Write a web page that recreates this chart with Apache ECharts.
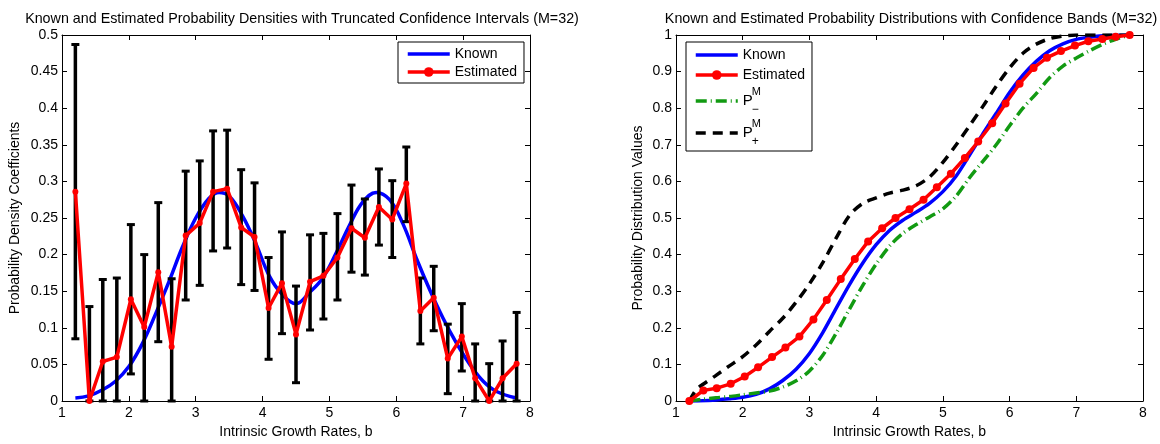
<!DOCTYPE html>
<html>
<head>
<meta charset="utf-8"/>
<title>Known and Estimated Probability Densities / Distributions</title>
<script src="https://cdn.jsdelivr.net/npm/echarts@6/dist/echarts.min.js"></script>
<style>
    html, body { margin: 0; padding: 0; background: #fff; }
    #chart { width: 1160px; height: 444px; }
</style>
</head>
<body>
<div id="chart"></div>
<script type="text/javascript">
// nodes b_k where the estimate is given (M=32)
var nodes = [1.2, 1.41, 1.61, 1.82, 2.03, 2.23, 2.44, 2.64, 2.85, 3.06, 3.26,
             3.47, 3.68, 3.88, 4.09, 4.29, 4.5, 4.71, 4.91, 5.12, 5.33, 5.53,
             5.74, 5.94, 6.15, 6.36, 6.56, 6.77, 6.98, 7.18, 7.39, 7.59, 7.8];

// left plot: densities
var estDensity = [0.286, 0.0, 0.054, 0.060, 0.139, 0.101, 0.176, 0.074, 0.226, 0.243, 0.286,
                  0.290, 0.237, 0.224, 0.127, 0.161, 0.091, 0.163, 0.171, 0.196, 0.236, 0.223,
                  0.265, 0.248, 0.297, 0.123, 0.141, 0.058, 0.088, 0.031, 0.0, 0.031, 0.051];
var ciUpper = [0.487, 0.129, 0.166, 0.168, 0.241, 0.200, 0.271, 0.167, 0.314, 0.328, 0.369,
               0.370, 0.316, 0.298, 0.196, 0.231, 0.157, 0.227, 0.229, 0.256, 0.295, 0.276,
               0.317, 0.301, 0.347, 0.168, 0.184, 0.105, 0.133, 0.078, 0.051, 0.082, 0.121];
var ciLower = [0.085, 0, 0, 0, 0.037, 0, 0.081, 0, 0.138, 0.158, 0.205,
               0.209, 0.159, 0.151, 0.057, 0.092, 0.025, 0.097, 0.112, 0.138, 0.176, 0.172,
               0.213, 0.196, 0.245, 0.078, 0.096, 0.010, 0.041, 0, 0, 0, 0];

var knownB = [1.2, 1.4, 1.6, 1.8, 2.0, 2.2, 2.4, 2.6, 2.8, 3.0, 3.2, 3.35, 3.5, 3.7, 3.9, 4.1, 4.3,
              4.5, 4.7, 4.9, 5.1, 5.3, 5.5, 5.7, 5.9, 6.1, 6.3, 6.5, 6.7, 6.9, 7.1, 7.3, 7.5, 7.8];
var knownDensity = [0.004, 0.007, 0.015, 0.027, 0.047, 0.078, 0.119, 0.163, 0.21, 0.25, 0.277, 0.285,
                    0.28, 0.253, 0.215, 0.171, 0.145, 0.133, 0.148, 0.168, 0.202, 0.24, 0.272, 0.285,
                    0.275, 0.242, 0.195, 0.152, 0.113, 0.079, 0.05, 0.027, 0.013, 0.004];

// right plot: distributions
var estCdf = [0, 0.029, 0.035, 0.047, 0.067, 0.092, 0.120, 0.146, 0.176, 0.223, 0.276,
              0.333, 0.388, 0.436, 0.472, 0.500, 0.524, 0.550, 0.584, 0.621, 0.664, 0.709,
              0.759, 0.813, 0.867, 0.910, 0.938, 0.956, 0.971, 0.983, 0.989, 0.995, 1.0];

var cdfB = [1.2, 1.4, 1.6, 1.8, 2.0, 2.2, 2.4, 2.6, 2.8, 3.0, 3.2, 3.4, 3.6, 3.8, 4.0, 4.2, 4.4,
            4.6, 4.8, 5.0, 5.2, 5.4, 5.6, 5.8, 6.0, 6.2, 6.4, 6.6, 6.8, 7.0, 7.2, 7.4, 7.6, 7.8];
var knownCdf = [0, 0.001, 0.003, 0.006, 0.01, 0.018, 0.033, 0.056, 0.087, 0.13, 0.187, 0.253, 0.318,
                0.377, 0.427, 0.466, 0.494, 0.516, 0.54, 0.572, 0.615, 0.672, 0.73, 0.786, 0.843,
                0.89, 0.928, 0.957, 0.976, 0.988, 0.994, 0.998, 0.999, 1.0];
var pMinus = [0, 0.005, 0.009, 0.012, 0.017, 0.022, 0.027, 0.038, 0.055, 0.082, 0.125, 0.185, 0.251,
              0.316, 0.374, 0.423, 0.458, 0.482, 0.503, 0.525, 0.56, 0.61, 0.655, 0.70, 0.752,
              0.80, 0.84, 0.883, 0.915, 0.937, 0.957, 0.975, 0.989, 1.0];
var pPlusB = [1.2, 1.3, 1.4, 1.6, 1.8, 2.0, 2.2, 2.4, 2.6, 2.8, 3.0, 3.2, 3.4, 3.6, 3.8, 4.0, 4.2,
              4.4, 4.6, 4.8, 5.0, 5.2, 5.4, 5.6, 5.8, 6.0, 6.2, 6.4, 6.6, 6.8, 7.0, 7.4, 7.8];
var pPlus = [0, 0.03, 0.045, 0.07, 0.096, 0.121, 0.153, 0.19, 0.226, 0.27, 0.32, 0.378, 0.445,
             0.507, 0.54, 0.555, 0.568, 0.576, 0.588, 0.612, 0.652, 0.70, 0.752, 0.805, 0.86,
             0.91, 0.95, 0.975, 0.99, 0.997, 1.0, 1.0, 1.0];

var FONT = 'Liberation Sans, Arial, sans-serif';
var FS = 14;

function zip(xs, ys) {
    var out = [];
    for (var i = 0; i < xs.length; i++) out.push([xs[i], ys[i]]);
    return out;
}

var errData = [];
for (var i = 0; i < nodes.length; i++) errData.push([nodes[i], ciLower[i], ciUpper[i]]);

function fmt(v) { return String(+v.toFixed(2)); }

// one x axis (bottom with labels, or top mirror with ticks only)
function xAxisFor(grid, top) {
    return {
        type: 'value', gridIndex: grid, position: top ? 'top' : 'bottom',
        min: 1, max: 8, interval: 1,
        name: top ? '' : 'Intrinsic Growth Rates, b',
        nameLocation: 'middle', nameGap: 24,
        nameTextStyle: { fontFamily: FONT, fontSize: FS, color: '#000' },
        axisLine: { show: true, onZero: false, lineStyle: { color: '#000', width: 1 } },
        axisTick: { show: true, inside: true, length: 5, lineStyle: { color: '#000' } },
        axisLabel: { show: !top, fontFamily: FONT, fontSize: FS, color: '#000', margin: 5 },
        splitLine: { show: false }
    };
}
function yAxisFor(grid, right, max, interval, name, gap) {
    return {
        type: 'value', gridIndex: grid, position: right ? 'right' : 'left',
        min: 0, max: max, interval: interval,
        name: right ? '' : name,
        nameLocation: 'middle', nameGap: gap,
        nameTextStyle: { fontFamily: FONT, fontSize: FS, color: '#000' },
        axisLine: { show: true, onZero: false, lineStyle: { color: '#000', width: 1 } },
        axisTick: { show: true, inside: true, length: 5, lineStyle: { color: '#000' } },
        axisLabel: { show: !right, fontFamily: FONT, fontSize: FS, color: '#000', margin: 4, formatter: fmt },
        splitLine: { show: false }
    };
}

var chart = echarts.init(document.getElementById('chart'));

var legendLabels = { KnownCdf: 'Known', EstCdf: 'Estimated' };
var noMarker = { opacity: 0 };

var option = {
    animation: false,
    backgroundColor: '#fff',
    title: [
        { text: 'Known and Estimated Probability Densities with Truncated Confidence Intervals (M=32)',
          left: 297, top: 7, textAlign: 'center',
          textStyle: { fontFamily: FONT, fontSize: 14.3, fontWeight: 'normal', color: '#000' } },
        { text: 'Known and Estimated Probability Distributions with Confidence Bands (M=32)',
          left: 906, top: 7, textAlign: 'center',
          textStyle: { fontFamily: FONT, fontSize: 14.3, fontWeight: 'normal', color: '#000' } }
    ],
    grid: [
        { left: 62, right: 630, top: 35, bottom: 40 },
        { left: 676, right: 17, top: 35, bottom: 40 }
    ],
    xAxis: [xAxisFor(0, false), xAxisFor(0, true), xAxisFor(1, false), xAxisFor(1, true)],
    yAxis: [
        yAxisFor(0, false, 0.5, 0.05, 'Probability Density Coefficients', 40),
        yAxisFor(0, true, 0.5, 0.05, '', 0),
        yAxisFor(1, false, 1, 0.1, 'Probability Distribution Values', 31),
        yAxisFor(1, true, 1, 0.1, '', 0)
    ],
    legend: [
        {
            data: [{ name: 'Known', itemStyle: noMarker }, 'Estimated'],
            orient: 'vertical', left: 398, top: 42,
            padding: [4, 7, 3, 8], itemGap: 2, itemWidth: 42, itemHeight: 12,
            lineStyle: { width: 3.5 },
            backgroundColor: '#fff', borderColor: '#000', borderWidth: 1, borderRadius: 0,
            textStyle: { fontFamily: FONT, fontSize: FS, color: '#000', lineHeight: 16 }
        },
        {
            data: [{ name: 'KnownCdf', itemStyle: noMarker }, 'EstCdf',
                   { name: 'Pminus', itemStyle: noMarker }, { name: 'Pplus', itemStyle: noMarker }],
            orient: 'vertical', left: 686, top: 42,
            padding: [4, 7, 3, 8], itemGap: 2, itemWidth: 42, itemHeight: 12,
            lineStyle: { width: 3.5 },
            backgroundColor: '#fff', borderColor: '#000', borderWidth: 1, borderRadius: 0,
            formatter: function (n) {
                if (n === 'Pminus') return '{e| }{m|M}\n{p|P}\n{e| }{s|\u2212}';
                if (n === 'Pplus') return '{e| }{m|M}\n{p|P}\n{e| }{s|+}';
                return legendLabels[n];
            },
            textStyle: {
                fontFamily: FONT, fontSize: FS, color: '#000', lineHeight: 18,
                rich: {
                    e: { width: 9, fontSize: 9, lineHeight: 6 },
                    m: { fontFamily: FONT, fontSize: 11, color: '#000', lineHeight: 6 },
                    p: { fontFamily: FONT, fontSize: 15, color: '#000', lineHeight: 12 },
                    s: { fontFamily: FONT, fontSize: 12, color: '#000', lineHeight: 7 }
                }
            }
        }
    ],
    series: [
        {
            name: 'Known', type: 'line', xAxisIndex: 0, yAxisIndex: 0,
            data: zip(knownB, knownDensity), smooth: 0.4, showSymbol: false, symbol: 'none',
            lineStyle: { color: '#0000ff', width: 3.5 }, itemStyle: { color: '#0000ff' }, z: 2
        },
        {
            name: 'CI', type: 'custom', xAxisIndex: 0, yAxisIndex: 0,
            data: errData, encode: { x: 0, y: [1, 2] }, z: 3,
            renderItem: function (params, api) {
                var top = api.coord([api.value(0), api.value(2)]);
                var bot = api.coord([api.value(0), api.value(1)]);
                var st = { stroke: '#000', lineWidth: 3.5 };
                var cap = { stroke: '#000', lineWidth: 3 };
                return {
                    type: 'group',
                    children: [
                        { type: 'line', shape: { x1: top[0], y1: top[1], x2: bot[0], y2: bot[1] }, style: st },
                        { type: 'line', shape: { x1: top[0] - 4, y1: top[1], x2: top[0] + 4, y2: top[1] }, style: cap },
                        { type: 'line', shape: { x1: bot[0] - 4, y1: bot[1], x2: bot[0] + 4, y2: bot[1] }, style: cap }
                    ]
                };
            }
        },
        {
            name: 'Estimated', type: 'line', xAxisIndex: 0, yAxisIndex: 0,
            data: zip(nodes, estDensity), symbol: 'circle', symbolSize: 6,
            lineStyle: { color: '#ff0000', width: 3.5 }, itemStyle: { color: '#ff0000' }, z: 4
        },
        {
            name: 'KnownCdf', type: 'line', xAxisIndex: 2, yAxisIndex: 2,
            data: zip(cdfB, knownCdf), smooth: 0.3, symbol: 'none',
            lineStyle: { color: '#0000ff', width: 3.5 }, itemStyle: { color: '#0000ff' }, z: 2
        },
        {
            name: 'EstCdf', type: 'line', xAxisIndex: 2, yAxisIndex: 2,
            data: zip(nodes, estCdf), symbol: 'circle', symbolSize: 8,
            lineStyle: { color: '#ff0000', width: 3.5 }, itemStyle: { color: '#ff0000' }, z: 4
        },
        {
            name: 'Pminus', type: 'line', xAxisIndex: 2, yAxisIndex: 2,
            data: zip(cdfB, pMinus), smooth: 0.3, symbol: 'none',
            lineStyle: { color: '#129a12', width: 3.5, type: [11, 4, 1, 4] }, itemStyle: { color: '#129a12' }, z: 3
        },
        {
            name: 'Pplus', type: 'line', xAxisIndex: 2, yAxisIndex: 2,
            data: zip(pPlusB, pPlus), smooth: 0.3, symbol: 'none',
            lineStyle: { color: '#000', width: 3.5, type: [10, 7] }, itemStyle: { color: '#000' }, z: 3
        }
    ]
};
chart.setOption(option);
</script>
</body>
</html>
